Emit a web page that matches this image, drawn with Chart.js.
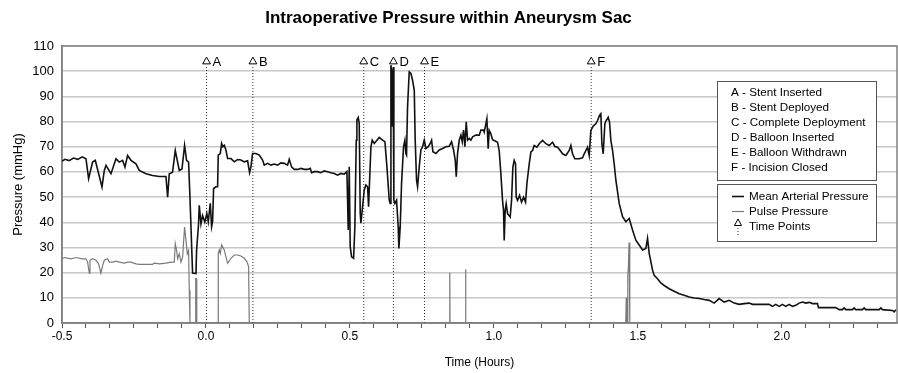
<!DOCTYPE html>
<html>
<head>
<meta charset="utf-8">
<script src="https://cdn.jsdelivr.net/npm/chart.js@4.4.0/dist/chart.umd.min.js"></script>
<style>
    body { margin: 0; background: #ffffff; overflow: hidden; }
    #wrap { width: 898px; height: 373px; }
</style>
</head>
<body>
<div id="wrap"><canvas id="pressureChart"></canvas></div>
<script>
// time in hours, pressure in mmHg
var mapTime = [
    -0.5, -0.49, -0.475, -0.46, -0.445, -0.43, -0.4167, -0.4076, -0.3937, -0.3844,
    -0.3611, -0.3531, -0.3472, -0.3299, -0.3125, -0.301, -0.2896, -0.2813, -0.2722, -0.2604,
    -0.2431, -0.2316, -0.2083, -0.1854, -0.1622, -0.1389, -0.1332, -0.1274, -0.116, -0.1066,
    -0.0985, -0.0927, -0.0833, -0.0743, -0.0674, -0.0604, -0.0556, -0.0465, -0.0347, -0.0326,
    -0.0257, -0.0233, -0.0174, -0.0118, -0.004, 0.003, 0.008, 0.0149, 0.0196, 0.023,
    0.0265, 0.0346, 0.0404, 0.0427, 0.0497, 0.0543, 0.0589, 0.0635, 0.0693, 0.0751,
    0.0867, 0.0983, 0.1098, 0.1214, 0.133, 0.1446, 0.1515, 0.1561, 0.1619, 0.1735,
    0.1851, 0.1966, 0.2024, 0.214, 0.2256, 0.2372, 0.2487, 0.2603, 0.2719, 0.2834,
    0.2892, 0.2973, 0.3066, 0.3182, 0.3297, 0.3413, 0.3529, 0.3622, 0.3668, 0.376,
    0.3876, 0.3992, 0.4108, 0.4223, 0.4339, 0.4455, 0.457, 0.4686, 0.4802, 0.4895,
    0.4918, 0.4941, 0.4976, 0.501, 0.5057, 0.5127, 0.5172, 0.5219, 0.5242, 0.5288,
    0.5323, 0.5358, 0.5381, 0.5439, 0.5497, 0.5554, 0.5613, 0.5648, 0.567, 0.5729,
    0.5775, 0.5845, 0.596, 0.6018, 0.6134, 0.6215, 0.6285, 0.6365, 0.64, 0.6424,
    0.6457, 0.6481, 0.6503, 0.6526, 0.6561, 0.6619, 0.6677, 0.67, 0.6746, 0.6793,
    0.6862, 0.6909, 0.6944, 0.6966, 0.7001, 0.7059, 0.7118, 0.7175, 0.7234, 0.7267,
    0.7314, 0.7349, 0.7407, 0.7465, 0.7523, 0.7581, 0.7639, 0.772, 0.7789, 0.7836,
    0.7882, 0.7986, 0.8102, 0.8218, 0.8333, 0.8449, 0.853, 0.8599, 0.8657, 0.8692,
    0.8738, 0.8796, 0.8854, 0.89, 0.8947, 0.8993, 0.9039, 0.9086, 0.9144, 0.9201,
    0.926, 0.9375, 0.9491, 0.9549, 0.9641, 0.9663, 0.9756, 0.9802, 0.9837, 0.9895,
    0.9953, 1.0011, 1.0126, 1.0184, 1.0242, 1.03, 1.0335, 1.0358, 1.0392, 1.0427,
    1.0474, 1.0566, 1.0613, 1.0659, 1.0705, 1.0752, 1.0775, 1.0821, 1.0891, 1.096,
    1.103, 1.1099, 1.1146, 1.1227, 1.1285, 1.1343, 1.14, 1.1493, 1.1574, 1.169,
    1.1806, 1.1921, 1.2037, 1.2118, 1.2211, 1.2303, 1.2384, 1.25, 1.2616, 1.2674,
    1.2731, 1.2812, 1.2963, 1.3079, 1.3137, 1.3195, 1.3252, 1.331, 1.3368, 1.3461,
    1.3542, 1.36, 1.3669, 1.3715, 1.375, 1.3796, 1.3854, 1.39, 1.397, 1.4016,
    1.4062, 1.4119, 1.4178, 1.4236, 1.4352, 1.4468, 1.4583, 1.4699, 1.4815, 1.4931,
    1.5046, 1.5162, 1.5278, 1.5336, 1.5394, 1.551, 1.5567, 1.5682, 1.5798, 1.5914,
    1.6088, 1.6262, 1.6435, 1.6609, 1.6782, 1.6956, 1.713, 1.7303, 1.7477, 1.765,
    1.7824, 1.7998, 1.8171, 1.8345, 1.8519, 1.8692, 1.8865, 1.898, 1.9096, 1.9328,
    1.9559, 1.9675, 1.9791, 1.9907, 2.0022, 2.0138, 2.0254, 2.037, 2.0485, 2.0601,
    2.0717, 2.0833, 2.0948, 2.1064, 2.1238, 2.1272, 2.1527, 2.1875, 2.1991, 2.2106,
    2.2164, 2.2222, 2.2454, 2.2512, 2.2569, 2.2801, 2.2859, 2.2917, 2.338, 2.3438,
    2.3495, 2.3843, 2.39, 2.3958
]
var mapValue = [
    64.3, 65, 64.5, 65.5, 65, 66, 65.2, 57.3, 63.9, 64.6,
    54, 60.6, 62.6, 59.3, 65.2, 63.9, 64.6, 61.9, 66.5, 64.6,
    63.2, 60.6, 59.3, 58.6, 58.2, 58.2, 50, 59.3, 59.9, 68.5,
    63.9, 60.6, 61.2, 70.5, 64.6, 63.9, 50, 19.8, 19.6, 28.8,
    39.4, 46.7, 39.4, 42.7, 40.1, 43.5, 40.2, 47.5, 38.2, 40.2,
    53.4, 54.1, 54.1, 66.7, 67.3, 71.3, 70, 70.6, 68.7, 65.3,
    65.3, 64, 64.9, 64.7, 64, 64.4, 59.7, 62, 67.3, 67.3,
    66.7, 64.7, 62.7, 63.4, 62.7, 63.1, 62.7, 63.6, 63.4, 62.7,
    65, 62, 61, 61, 61.4, 61, 61, 61.4, 59.7, 60.1,
    60.1, 59.7, 60.4, 60.1, 59.7, 59.4, 58.7, 59.4, 59.1, 60.1,
    48.8, 36.9, 62, 30.3, 26.3, 25.7, 38.2, 72.6, 80.6, 81.6,
    79.2, 43.5, 39.6, 46.2, 52.8, 54.8, 54.1, 46.2, 52.8, 70,
    72.6, 71.3, 72.9, 73.7, 72.6, 72, 62, 48.8, 47.5, 102.4,
    99, 77.9, 101.6, 48.8, 47.5, 48.8, 38.2, 29.6, 38.2, 55.4,
    70, 72.6, 67.3, 66.7, 85.8, 99.7, 99.1, 96.4, 92.5, 72.6,
    56.7, 54.1, 62, 68.7, 70, 72.6, 69.3, 70, 71.3, 72.6,
    68, 67.3, 68.7, 69.3, 70, 70.2, 72, 68.7, 64.7, 58.1,
    67.3, 72.6, 74.6, 72, 76.6, 70, 79.9, 72.6, 73.3, 72.6,
    73.9, 74.6, 74.6, 76.6, 76.6, 75.8, 81.1, 69.2, 76.5, 75.1,
    72.8, 72.5, 71.8, 68.5, 59.3, 48.7, 44.7, 32.8, 44.7, 47.4,
    43.4, 42.1, 48.7, 61.9, 64.6, 63.2, 50, 48.7, 50.7, 48,
    50, 48, 55.3, 63.2, 67.9, 68.5, 70.5, 69.8, 71.2, 72.5,
    71.2, 70.5, 71.8, 70.1, 69.8, 68.5, 67.2, 66.5, 68.5, 70.5,
    67.2, 65.2, 65.2, 65.6, 67.2, 68.5, 69.8, 66.5, 76.5, 78.4,
    79.1, 80.4, 82.4, 83.1, 71.2, 67.2, 79.1, 80.4, 81.7, 79.8,
    72.5, 68.7, 63.2, 56.7, 47.5, 42.2, 40.2, 41.5, 36.9, 32.9,
    31, 29, 29.6, 33.6, 27.6, 21, 18.9, 17.6, 15.9, 14.9,
    13.6, 12.6, 11.6, 11, 10.3, 9.9, 9.7, 9.3, 9, 7.9,
    9.7, 8.3, 9, 7.9, 7.4, 7.7, 7.9, 7.4, 7.4, 7.4,
    7.4, 6.6, 7.4, 6.6, 7.4, 6.6, 7.4, 6.6, 7, 7.9,
    8.3, 7.9, 8.2, 7.7, 7.7, 6.1, 6.1, 6.1, 5.3, 5.3,
    6, 5.3, 5.3, 6, 5.3, 5.3, 6, 5.3, 5.3, 6,
    5.3, 5, 4.4, 5.3
]
var ppTime = [
    -0.5, -0.49, -0.47, -0.45, -0.43, -0.4167, -0.411, -0.4051, -0.4028, -0.3937,
    -0.3821, -0.3729, -0.3648, -0.359, -0.3531, -0.3415, -0.3357, -0.3241, -0.3125, -0.301,
    -0.2836, -0.272, -0.2604, -0.2431, -0.2316, -0.1854, -0.1795, -0.1622, -0.1389, -0.1215,
    -0.11, -0.1066, -0.1019, -0.0985, -0.0927, -0.0869, -0.0811, -0.0743, -0.0694, -0.0648,
    -0.0604, -0.0579, -0.0556, -0.037, -0.0355, -0.0335, -0.032, 0.042, 0.0427, 0.0462,
    0.0497, 0.0543, 0.0635, 0.0693, 0.0751, 0.0867, 0.0983, 0.1098, 0.1214, 0.133,
    0.1423, 0.1481, 0.1504, 0.846, 0.8468, 0.8476, 0.901, 0.9018, 0.9026, 1.458,
    1.4595, 1.461, 1.4635, 1.465, 1.467, 1.4695, 1.472, 2.4
]
var ppValue = [
    25.5, 26, 25.5, 26, 25.5, 25.5, 24.2, 19.8, 24.9, 25.5,
    24.9, 23.5, 19.8, 22.8, 24.9, 25.5, 24.2, 24.2, 24.6, 24.2,
    23.8, 24.2, 24.2, 23.5, 23.3, 23.3, 23.8, 23.5, 23.8, 24.2,
    24.2, 31.5, 28.8, 25.5, 27.5, 24.2, 26.2, 38.1, 32.8, 27.5,
    28.8, 13, 0, 0, 17.6, 17.6, 0, 0, 27.6, 29,
    27.6, 31, 29, 26.3, 23.7, 25.7, 27, 27, 26.6, 25.7,
    24.3, 22.4, 0, 0, 20, 0, 0, 21.3, 0, 0,
    10, 0, 0, 19, 22, 32, 0, 0
]
var eventTime = [0.002, 0.163, 0.548, 0.651, 0.759, 1.338]
var eventLetter = ['A', 'B', 'C', 'D', 'E', 'F']
var eventText = ['Stent Inserted', 'Stent Deployed', 'Complete Deployment', 'Balloon Inserted', 'Balloon Withdrawn', 'Incision Closed']
var seriesNames = ['Mean Arterial Pressure', 'Pulse Pressure', 'Time Points']
var xTickLabels = ['-0.5', '0.0', '0.5', '1.0', '1.5', '2.0']

var markerY = 103.8
var lineTopY = 102.3
var FONT = "'Liberation Sans', Arial, sans-serif"

function pairs(xs, ys) {
    return xs.map(function(x, i) { return {x: x, y: ys[i]} })
}

var datasets = [
    {
        label: seriesNames[0],
        data: pairs(mapTime, mapValue),
        showLine: true,
        borderColor: '#111111',
        borderWidth: 1.6,
        pointRadius: 0,
        tension: 0
    },
    {
        label: seriesNames[1],
        data: pairs(ppTime, ppValue),
        showLine: true,
        borderColor: '#7a7a7a',
        borderWidth: 1.2,
        pointRadius: 0,
        tension: 0
    },
    {
        label: seriesNames[2],
        data: eventTime.map(function(t) { return {x: t, y: markerY} }),
        showLine: false,
        pointStyle: 'triangle',
        pointRadius: 4.5,
        pointBackgroundColor: '#ffffff',
        pointBorderColor: '#000000',
        pointBorderWidth: 1
    }
]
eventTime.forEach(function(t) {
    datasets.push({
        label: 'event',
        data: [{x: t, y: 0}, {x: t, y: lineTopY}],
        showLine: true,
        borderColor: '#333333',
        borderWidth: 1,
        borderDash: [1, 2],
        pointRadius: 0
    })
})

// plot frame + letters next to the triangles
var framePlugin = {
    id: 'frame',
    beforeDatasetsDraw: function(chart) {
        var a = chart.chartArea, ctx = chart.ctx
        ctx.save()
        ctx.strokeStyle = '#808080'
        ctx.lineWidth = 1.5
        ctx.strokeRect(a.left, a.top, a.right - a.left, a.bottom - a.top)
        ctx.restore()
    },
    afterDatasetsDraw: function(chart) {
        var xs = chart.scales.x, ys = chart.scales.y, ctx = chart.ctx
        ctx.save()
        ctx.font = '13px ' + FONT
        ctx.fillStyle = '#000000'
        ctx.textBaseline = 'middle'
        eventTime.forEach(function(t, i) {
            ctx.fillText(eventLetter[i], xs.getPixelForValue(t) + 6, ys.getPixelForValue(markerY) + 1)
        })
        ctx.restore()
    }
}

// the two boxed legends on the right
var boxLegend = {
    id: 'boxLegend',
    afterDraw: function(chart) {
        var ctx = chart.ctx
        ctx.save()
        ctx.fillStyle = '#ffffff'
        ctx.strokeStyle = '#555555'
        ctx.lineWidth = 1
        ctx.fillRect(717.5, 81.5, 159, 99)
        ctx.strokeRect(717.5, 81.5, 159, 99)
        ctx.fillRect(717.5, 184.5, 159, 57)
        ctx.strokeRect(717.5, 184.5, 159, 57)

        ctx.font = '11.7px ' + FONT
        ctx.fillStyle = '#000000'
        ctx.textBaseline = 'middle'
        eventLetter.forEach(function(l, i) {
            ctx.fillText(l + ' - ' + eventText[i], 731, 93 + i * 15)
        })

        ctx.lineWidth = 1.6
        ctx.strokeStyle = '#111111'
        ctx.beginPath(); ctx.moveTo(732, 196.5); ctx.lineTo(744, 196.5); ctx.stroke()
        ctx.lineWidth = 1.2
        ctx.strokeStyle = '#7a7a7a'
        ctx.beginPath(); ctx.moveTo(732, 211.5); ctx.lineTo(744, 211.5); ctx.stroke()

        ctx.lineWidth = 1
        ctx.strokeStyle = '#000000'
        ctx.beginPath()
        ctx.moveTo(738, 219); ctx.lineTo(741.5, 225.5); ctx.lineTo(734.5, 225.5); ctx.closePath()
        ctx.stroke()
        ctx.setLineDash([1, 2])
        ctx.strokeStyle = '#333333'
        ctx.beginPath(); ctx.moveTo(738, 228); ctx.lineTo(738, 235); ctx.stroke()
        ctx.setLineDash([])

        seriesNames.forEach(function(n, i) {
            ctx.fillText(n, 749, 196.5 + i * 15)
        })
        ctx.restore()
    }
}

var ctx = document.getElementById('pressureChart')
new Chart(ctx, {
    type: 'scatter',
    data: { datasets: datasets },
    plugins: [framePlugin, boxLegend],
    options: {
        responsive: true,
        maintainAspectRatio: false,
        animation: false,
        // the triangle markers would otherwise pull the plot in from the right
        layout: { autoPadding: false, padding: { left: 0, right: 1, top: 0, bottom: 0 } },
        scales: {
            x: {
                type: 'linear',
                min: -0.5,
                max: 2.4,
                afterBuildTicks: function(scale) {
                    var t = []
                    for (var k = 0; k <= 34; k++) t.push({value: -0.5 + k / 12})
                    scale.ticks = t
                },
                afterFit: function(scale) {
                    scale.height = 50
                    scale.paddingLeft = 0
                    scale.paddingRight = 0
                },
                ticks: {
                    autoSkip: false,
                    maxRotation: 0,
                    minRotation: 0,
                    padding: 1,
                    color: '#000000',
                    font: { size: 12, family: FONT },
                    callback: function(value, index) {
                        return index % 6 === 0 ? xTickLabels[index / 6] : ''
                    }
                },
                grid: {
                    drawOnChartArea: false,
                    drawTicks: true,
                    tickLength: 5,
                    color: '#555555'
                },
                border: { color: '#808080', width: 1.5 },
                title: {
                    display: true,
                    text: 'Time (Hours)',
                    color: '#000000',
                    font: { size: 12, family: FONT },
                    padding: { top: 0, bottom: 3 }
                }
            },
            y: {
                min: 0,
                max: 110,
                afterFit: function(scale) { scale.width = 62 },
                ticks: {
                    stepSize: 10,
                    padding: 8,
                    color: '#000000',
                    font: { size: 13, family: FONT }
                },
                grid: {
                    color: '#c8c8c8',
                    lineWidth: 1.5,
                    drawTicks: false
                },
                border: { color: '#808080', width: 1.5 },
                title: {
                    display: true,
                    text: 'Pressure (mmHg)',
                    color: '#000000',
                    font: { size: 13, family: FONT },
                    padding: { top: 11, bottom: 0 }
                }
            }
        },
        plugins: {
            legend: { display: false },
            tooltip: { enabled: false },
            title: {
                display: true,
                text: 'Intraoperative Pressure within Aneurysm Sac',
                color: '#000000',
                font: { size: 17, weight: 'bold', family: FONT },
                padding: { top: 8, bottom: 17.6 }
            }
        }
    }
})
</script>
</body>
</html>
